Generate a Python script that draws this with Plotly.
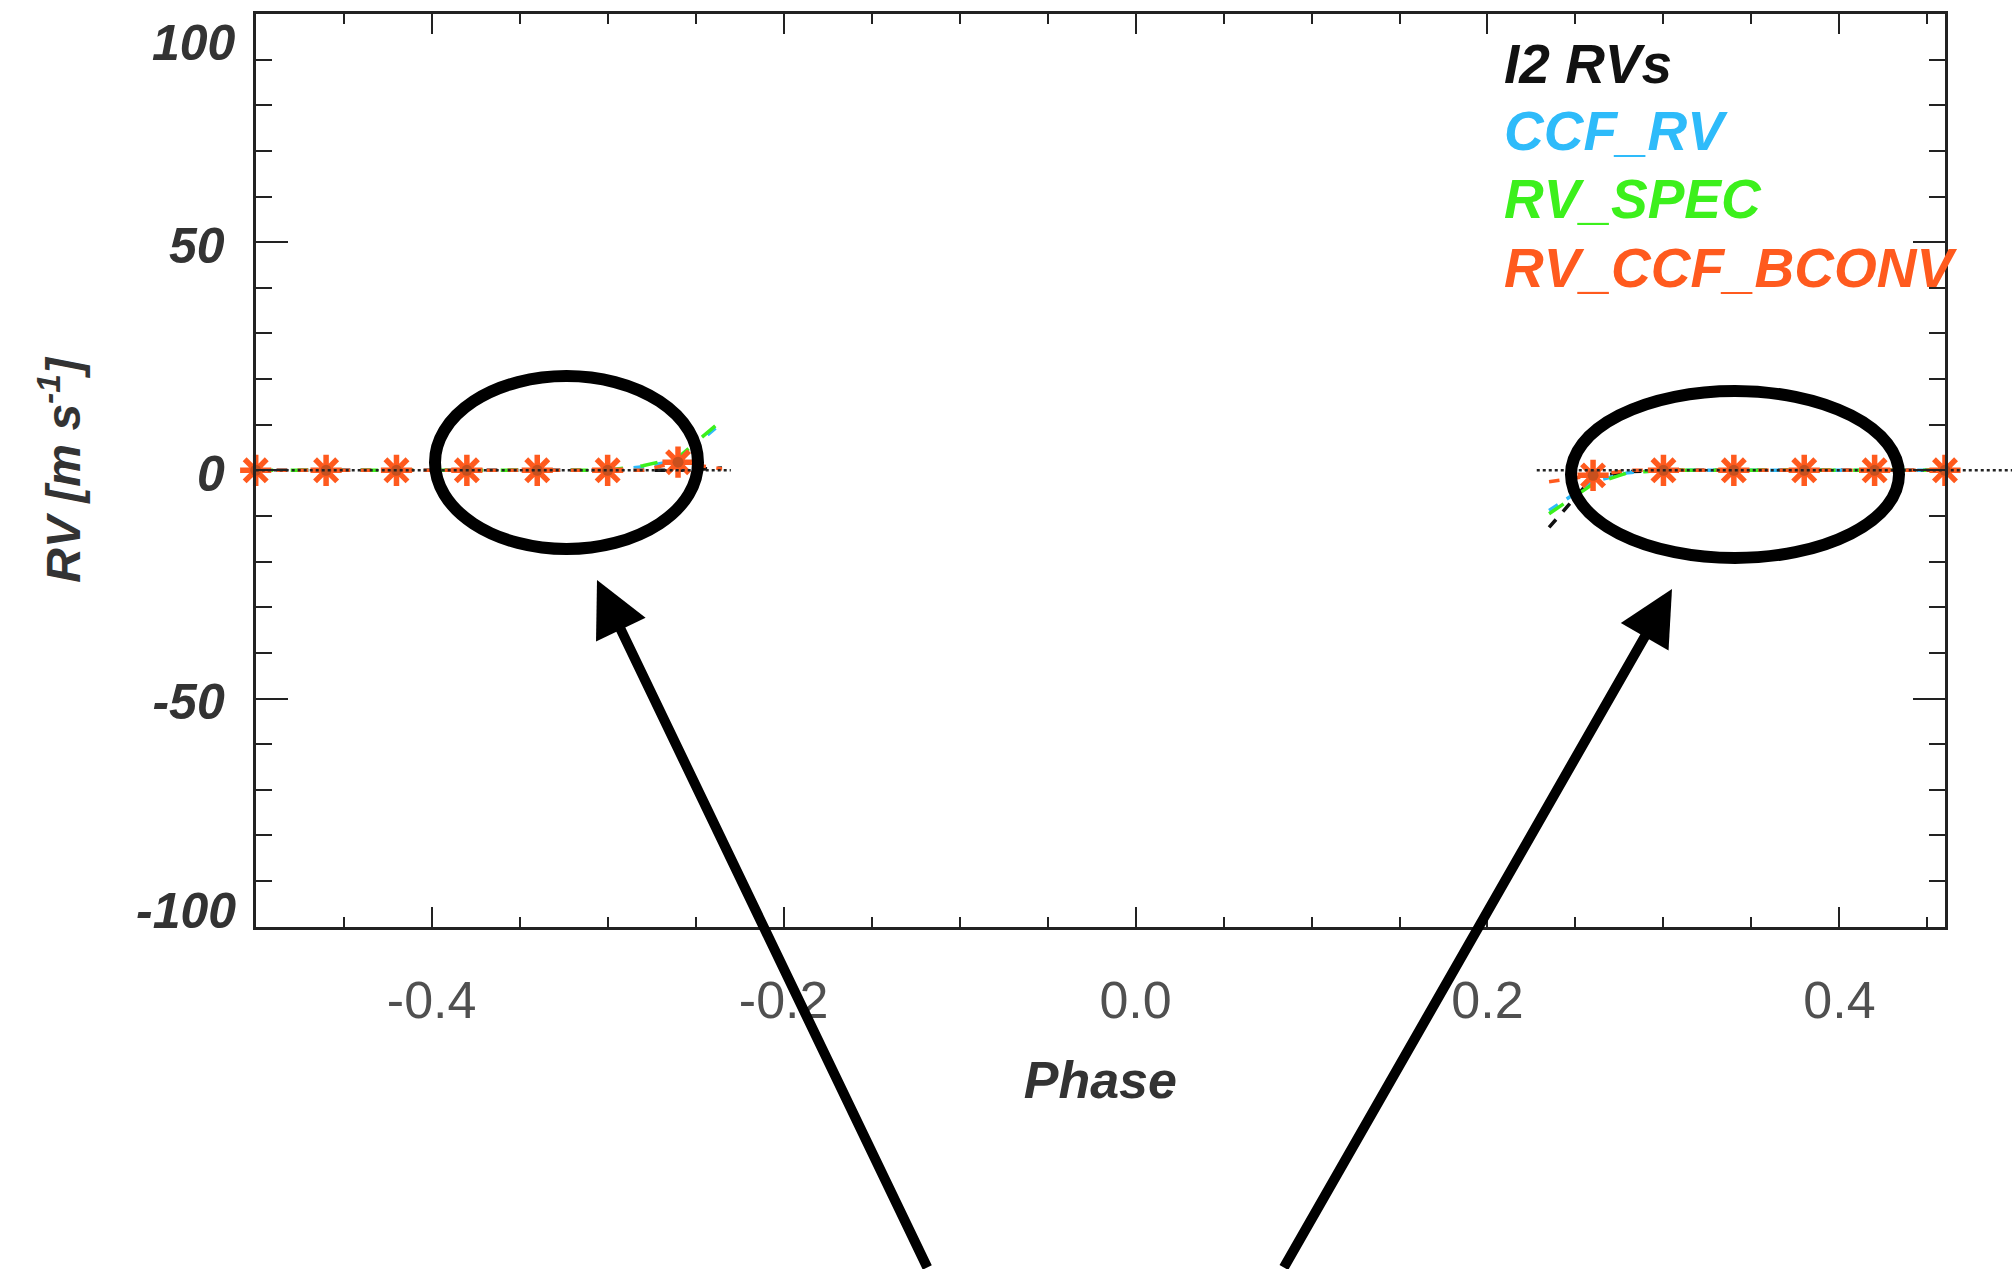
import plotly.graph_objects as go

# ---------------- data ----------------
phase_obs = [-0.50, -0.46, -0.42, -0.38, -0.34, -0.30, -0.26,
             0.26, 0.30, 0.34, 0.38, 0.42, 0.46]
rv_bconv_obs = [0, 0, 0, 0, 0, 0, 1.8,
                -1.1, 0, 0, 0, 0, 0]

phase_model = [-0.50, -0.46, -0.42, -0.38, -0.34, -0.30, -0.28, -0.26, -0.235, None,
               0.235, 0.26, 0.28, 0.30, 0.34, 0.38, 0.42, 0.46]
i2_model = [0, 0, 0, 0, 0, 0, 0, 0, 0.5, None,
            -12.5, -1.5, -0.3, 0, 0, 0, 0, 0]
ccf_model = [0, 0, 0, 0, 0, 0, 0.8, 2.2, 10.5, None,
             -8.8, -2.5, -0.5, 0, 0, 0, 0, 0]
spec_model = [0, 0, 0, 0, 0, 0, 1.0, 2.8, 11.0, None,
              -9.5, -3.0, -0.5, 0, 0, 0, 0, 0]
bconv_model = [0, 0, 0, 0, 0, 0, 0, 1.8, 0.3, None,
               -2.5, -1.1, 0, 0, 0, 0, 0, 0]

phase_zero = [-0.50, -0.23, None, 0.228, 0.50]
rv_zero = [0, 0, None, 0, 0]

series_names = ["I2 RVs", "CCF_RV", "RV_SPEC", "RV_CCF_BCONV"]
series_colors = ["#111111", "#2EBBFA", "#3CF01C", "#FF5A1E"]

x_ticks = [-0.4, -0.2, 0.0, 0.2, 0.4]
x_ticktext = ["-0.4", "-0.2", "0.0", "0.2", "0.4"]
y_ticks = [-50, 0, 50]
y_ticktext = ["-50", "0", "50"]

# ---------------- geometry ----------------
W, H = 2012, 1269
L_PX, R_PX, T_PX, B_PX = 255.7, 1945.0, 14.0, 926.7
XMIN, XMAX = -0.5, 0.46
px_per_unit = (R_PX - L_PX) / (XMAX - XMIN)
x_dom = [L_PX / W, R_PX / W]
y_dom = [1 - B_PX / H, 1 - T_PX / H]
x2max = XMIN + (W - L_PX) / px_per_unit


def px(xp):
    return xp / W


def py(yp):
    return 1 - yp / H


fig = go.Figure()

# dotted zero reference (extends past the right frame, as in the original)
fig.add_trace(go.Scatter(x=phase_zero, y=rv_zero, mode="lines", xaxis="x2", yaxis="y2",
                         showlegend=False, line=dict(color="#222222", width=2.5, dash="dot")))

model_sets = [i2_model, ccf_model, spec_model, bconv_model]
dashes = ["dash", "dash", "longdash", "dash"]
for name, vals, col, d in zip(series_names, model_sets, series_colors, dashes):
    fig.add_trace(go.Scatter(x=phase_model, y=vals, mode="lines", name=name,
                             line=dict(color=col, width=3.5, dash=d),
                             showlegend=False, connectgaps=False))

fig.add_trace(go.Scatter(x=phase_obs, y=rv_bconv_obs, mode="markers",
                         name="RV_CCF_BCONV data", showlegend=False, cliponaxis=False,
                         marker=dict(symbol="asterisk-open", size=26,
                                     line=dict(color=series_colors[3], width=5.5),
                                     color=series_colors[3])))
fig.add_trace(go.Scatter(x=phase_obs, y=rv_bconv_obs, mode="markers",
                         name="RV_CCF_BCONV centre", showlegend=False, cliponaxis=False,
                         marker=dict(symbol="circle", size=11, color="#C8501E",
                                     line=dict(width=0))))

axis_col = "#222222"
bi = dict(weight="bold", style="italic")

fig.update_layout(
    width=W, height=H,
    margin=dict(l=0, r=0, t=0, b=0),
    paper_bgcolor="white", plot_bgcolor="rgba(0,0,0,0)",
    showlegend=False,
    xaxis=dict(domain=x_dom, range=[XMIN, XMAX], tickmode="array",
               tickvals=x_ticks, ticktext=x_ticktext,
               ticks="inside", ticklen=20, tickwidth=2, tickcolor=axis_col,
               minor=dict(tick0=0, dtick=0.05, ticks="inside", ticklen=10,
                          tickwidth=2, tickcolor=axis_col),
               showline=True, linecolor=axis_col, linewidth=3, mirror="ticks",
               showgrid=False, zeroline=False, automargin=False,
               ticklabelstandoff=26,
               tickfont=dict(family="Liberation Sans", size=52, color="#505050"),
               title=dict(text="Phase", standoff=34,
                          font=dict(family="Liberation Sans", size=52, color="#333333", **bi))),
    yaxis=dict(domain=y_dom, range=[-100, 100], tickmode="array",
               tickvals=y_ticks, ticktext=y_ticktext,
               ticks="inside", ticklen=32, tickwidth=2, tickcolor=axis_col,
               minor=dict(tick0=0, dtick=10, ticks="inside", ticklen=16,
                          tickwidth=2, tickcolor=axis_col),
               showline=True, linecolor=axis_col, linewidth=3, mirror="ticks",
               showgrid=False, zeroline=False, automargin=False,
               ticklabelstandoff=18, ticklabelshift=3,
               tickfont=dict(family="Liberation Sans", size=50, color="#333333", **bi),
               title=dict(text="RV [m s<sup>-1</sup>]", standoff=57,
                          font=dict(family="Liberation Sans", size=48, color="#333333", **bi))),
    xaxis2=dict(domain=[x_dom[0], 1.0], range=[XMIN, x2max], visible=False,
                anchor="y2", fixedrange=True),
    yaxis2=dict(domain=y_dom, range=[-100, 100], visible=False,
                anchor="x2", fixedrange=True),
)

# end y tick labels (placed inside like the original)
fig.add_annotation(text="100", xref="paper", x=x_dom[0], xanchor="right", xshift=-18,
                   yref="y", y=100, yanchor="middle", yshift=-29, showarrow=False,
                   font=dict(family="Liberation Sans", size=50, color="#333333", **bi))
fig.add_annotation(text="-100", xref="paper", x=x_dom[0], xanchor="right", xshift=-18,
                   yref="y", y=-100, yanchor="middle", yshift=16, showarrow=False,
                   font=dict(family="Liberation Sans", size=50, color="#333333", **bi))

# text legend
legend_y_px = [64, 131, 199, 268]
for name, col, ly in zip(series_names, series_colors, legend_y_px):
    fig.add_annotation(text=name, xref="paper", yref="paper", x=px(1502), y=py(ly),
                       xanchor="left", yanchor="middle", showarrow=False,
                       font=dict(family="Liberation Sans", size=55, color=col, **bi))

# highlight ellipses
for (x0, y0, x1, y1) in [(435, 376, 698, 549), (1571, 391, 1899, 558)]:
    fig.add_shape(type="circle", xref="paper", yref="paper",
                  x0=px(x0), x1=px(x1), y0=py(y1), y1=py(y0),
                  line=dict(color="black", width=12))

# arrows
for (tx, ty, tailx, taily) in [(597, 580, 928, 1275), (1672, 589, 1283, 1275)]:
    fig.add_annotation(text="", xref="paper", yref="paper", x=px(tx), y=py(ty),
                       ax=tailx - tx, ay=taily - ty, axref="pixel", ayref="pixel",
                       showarrow=True, arrowhead=2, arrowsize=1.1, arrowwidth=10,
                       arrowcolor="black", standoff=0)

fig.write_html("out.html", config={"displayModeBar": False})
